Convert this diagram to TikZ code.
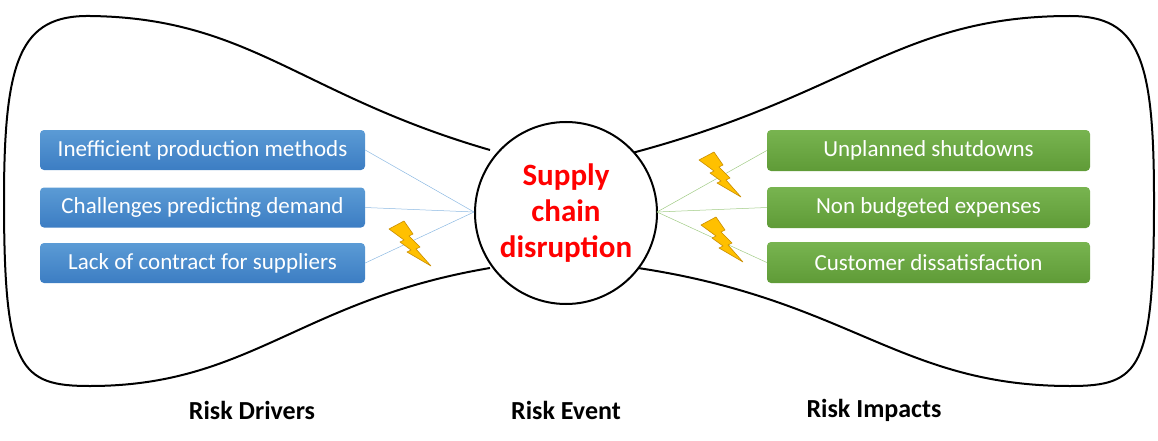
\documentclass[tikz,border=0pt]{standalone}
\usepackage{fontspec}
\setmainfont{Carlito}
\begin{document}
\begin{tikzpicture}[x=1pt,y=-1pt,
 bbox/.style={rounded corners=4pt,minimum width=325pt,minimum height=40pt,text=white,font=\fontsize{23}{27}\selectfont,top color=bfill1,bottom color=bfill2},
 gbox/.style={rounded corners=4pt,minimum width=323pt,minimum height=41pt,text=white,font=\fontsize{23}{27}\selectfont,top color=gfill1,bottom color=gfill2},
 lab/.style={font=\bfseries\fontsize{26}{30}\selectfont},
 bline/.style={draw=bfill1!70,line width=0.5pt},
 gline/.style={draw=gfill1!70,line width=0.5pt},
 bolt/.style={fill=boltc,draw=boltd,line width=0.6pt,line join=round}]
\definecolor{bfill1}{RGB}{91,155,213}
\definecolor{bfill2}{RGB}{60,125,195}
\definecolor{gfill1}{RGB}{120,180,80}
\definecolor{gfill2}{RGB}{95,155,55}
\definecolor{boltc}{RGB}{255,192,0}
\definecolor{boltd}{RGB}{200,140,0}
\useasboundingbox (0,0) rectangle (1158,441);
\draw[line width=2pt] (490,150) .. controls (300,95) and (250,18) .. (90,16) .. controls (20,15) and (4,60) .. (4,200) .. controls (4,370) and (20,386) .. (90,386) .. controls (250,386) and (300,300) .. (490,268);
\draw[line width=2pt] (632,153) .. controls (850,95) and (900,16) .. (1070,16) .. controls (1140,16) and (1154,60) .. (1154,200) .. controls (1154,370) and (1140,386) .. (1070,386) .. controls (900,386) and (850,300) .. (638,268);
\node[circle,draw,line width=2pt,fill=white,minimum size=182pt,inner sep=0pt,align=center,text=red,font=\bfseries\fontsize{31}{36}\selectfont] (ev) at (566,213) {Supply\\chain\\disruption};
\node[bbox] (b1) at (202.5,150) {Inefficient production methods};
\node[bbox] (b2) at (202.5,207.5) {Challenges predicting demand};
\node[bbox] (b3) at (202.5,263) {Lack of contract for suppliers};
\node[gbox] (g1) at (928.5,150.5) {Unplanned shutdowns};
\node[gbox] (g2) at (928.5,207.5) {Non budgeted expenses};
\node[gbox] (g3) at (928.5,262.5) {Customer dissatisfaction};
\coordinate (cl) at (474,212);
\coordinate (cr) at (657,212);
\draw[bline] (b1.east) -- (cl);
\draw[bline] (b2.east) -- (cl);
\draw[bline] (b3.east) -- (cl);
\draw[gline] (cr) -- (g1.west);
\draw[gline] (cr) -- (g2.west);
\draw[gline] (cr) -- (g3.west);
\foreach \bx/\by in {389/221, 699/152, 701/217}{
 \draw[bolt] (\bx,\by+8) -- (\bx+15,\by) -- (\bx+24,\by+13) -- (\bx+20,\by+15) -- (\bx+31,\by+26) -- (\bx+27,\by+28) -- (\bx+42,\by+45) -- (\bx+18,\by+31) -- (\bx+22,\by+29) -- (\bx+11,\by+21) -- (\bx+15,\by+19) -- cycle;
}
\node[lab] (l1) at (252,410) {Risk Drivers};
\node[lab] (l2) at (566,410) {Risk Event};
\node[lab] (l3) at (874,410) {Risk Impacts};
\end{tikzpicture}
\end{document}
